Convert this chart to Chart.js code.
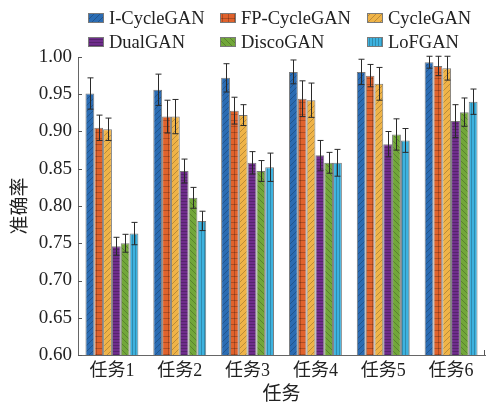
<!DOCTYPE html>
<html>
<head>
<meta charset="utf-8">
<script src="https://cdn.jsdelivr.net/npm/chart.js@4.4.1/dist/chart.umd.min.js"></script>
<style>
  body { margin: 0; background: #fff; }
  #wrap { width: 490px; height: 406px; }
</style>
</head>
<body>
<div id="wrap"><canvas id="myChart" width="490" height="406"></canvas></div>
<script>
// data
const tasks = ['任务1', '任务2', '任务3', '任务4', '任务5', '任务6'];
const names = ['I-CycleGAN', 'FP-CycleGAN', 'CycleGAN', 'DualGAN', 'DiscoGAN', 'LoFGAN'];

const iCycle = [0.951, 0.956, 0.972, 0.980, 0.980, 0.993];
const fpCycle = [0.905, 0.920, 0.928, 0.944, 0.975, 0.988];
const cycle = [0.903, 0.920, 0.922, 0.942, 0.964, 0.985];
const dual = [0.746, 0.847, 0.858, 0.868, 0.883, 0.914];
const disco = [0.750, 0.811, 0.847, 0.858, 0.896, 0.926];
const lof = [0.763, 0.780, 0.852, 0.858, 0.888, 0.940];

const iCycleErr = [0.021, 0.021, 0.019, 0.016, 0.017, 0.008];
const fpCycleErr = [0.017, 0.022, 0.018, 0.024, 0.015, 0.013];
const cycleErr = [0.015, 0.023, 0.014, 0.023, 0.022, 0.016];
const dualErr = [0.012, 0.016, 0.015, 0.020, 0.017, 0.022];
const discoErr = [0.012, 0.014, 0.014, 0.014, 0.021, 0.019];
const lofErr = [0.015, 0.013, 0.019, 0.018, 0.016, 0.017];

const yTicks = [0.60, 0.65, 0.70, 0.75, 0.80, 0.85, 0.90, 0.95, 1.00];

const serif = "'Liberation Serif', 'Noto Sans CJK SC', serif";

// hatch fills like the matlab bars
function hatch(color, kind) {
    let c = document.createElement('canvas')
    c.width = 6; c.height = 6
    let g = c.getContext('2d')
    g.fillStyle = color
    g.fillRect(0, 0, 6, 6)
    g.strokeStyle = 'rgba(0,0,0,0.22)'
    g.lineWidth = 1
    g.beginPath()
    if (kind == 'diag') {
        g.moveTo(0, 6); g.lineTo(6, 0)
        g.moveTo(-3, 3); g.lineTo(3, -3)
        g.moveTo(3, 9); g.lineTo(9, 3)
    } else if (kind == 'grid') {
        g.moveTo(0, 0.5); g.lineTo(6, 0.5)
        g.moveTo(0.5, 0); g.lineTo(0.5, 6)
    } else if (kind == 'horiz') {
        g.moveTo(0, 0.5); g.lineTo(6, 0.5)
        g.moveTo(0, 3.5); g.lineTo(6, 3.5)
    } else if (kind == 'vert') {
        g.moveTo(0.5, 0); g.lineTo(0.5, 6)
        g.moveTo(3.5, 0); g.lineTo(3.5, 6)
    } else if (kind == 'back') {
        g.moveTo(0, 0); g.lineTo(6, 6)
    }
    g.stroke()
    return g.createPattern(c, 'repeat')
}

const fills = [
    hatch('#2b6cb3', 'diag'),
    hatch('#e0622c', 'grid'),
    hatch('#efb347', 'diag'),
    hatch('#6f2d8c', 'horiz'),
    hatch('#72a73a', 'back'),
    hatch('#3db2df', 'vert')
];
const values = [iCycle, fpCycle, cycle, dual, disco, lof];
const errs = [iCycleErr, fpCycleErr, cycleErr, dualErr, discoErr, lofErr];

const datasets = names.map((n, i) => ({
    label: n,
    data: values[i],
    backgroundColor: fills[i],
    borderColor: '#7a7a7a',
    borderWidth: 1,
    categoryPercentage: 0.78,
    barPercentage: 1.0
}));

// error bars
const errorBars = {
    id: 'errorBars',
    afterDatasetsDraw(chart) {
        const ctx = chart.ctx
        const y = chart.scales.y
        ctx.save()
        ctx.strokeStyle = '#2a2a2a'
        ctx.lineWidth = 1
        chart.data.datasets.forEach((ds, i) => {
            chart.getDatasetMeta(i).data.forEach((bar, j) => {
                let v = ds.data[j], e = errs[i][j]
                let x = Math.round(bar.x) + 0.5
                let top = y.getPixelForValue(v + e)
                let bot = y.getPixelForValue(v - e)
                ctx.beginPath()
                ctx.moveTo(x, top); ctx.lineTo(x, bot)
                ctx.moveTo(x - 3, top); ctx.lineTo(x + 3, top)
                ctx.moveTo(x - 3, bot); ctx.lineTo(x + 3, bot)
                ctx.stroke()
            })
        })
        ctx.restore()
    }
};

// inward ticks on the y axis + legend in 3 columns
const extras = {
    id: 'extras',
    afterDraw(chart) {
        const ctx = chart.ctx
        const y = chart.scales.y
        const area = chart.chartArea
        ctx.save()
        ctx.strokeStyle = '#555'
        ctx.lineWidth = 1
        yTicks.forEach(t => {
            let py = Math.round(y.getPixelForValue(t)) + 0.5
            ctx.beginPath()
            ctx.moveTo(area.left, py); ctx.lineTo(area.left + 4, py)
            ctx.stroke()
        })
        ctx.beginPath()
        ctx.moveTo(area.right - 0.5, area.bottom); ctx.lineTo(area.right - 0.5, area.bottom - 5)
        ctx.stroke()

        const colX = [88, 220, 367]
        const rowY = [18, 42]
        ctx.font = '18.5px ' + serif
        ctx.textBaseline = 'middle'
        ctx.fillStyle = '#222'
        names.forEach((n, i) => {
            let bx = colX[i % 3], by = rowY[Math.floor(i / 3)]
            ctx.fillStyle = fills[i]
            ctx.fillRect(bx, by - 5, 16, 10)
            ctx.strokeStyle = '#7a7a7a'
            ctx.strokeRect(bx + 0.5, by - 4.5, 15, 9)
            ctx.fillStyle = '#222'
            ctx.fillText(n, bx + 21, by + 1)
        })
        ctx.restore()
    }
};

const config = {
    type: 'bar',
    data: { labels: tasks, datasets: datasets },
    options: {
        responsive: false,
        animation: false,
        layout: { padding: { top: 57, right: 5, bottom: 0, left: 0 } },
        plugins: {
            legend: { display: false },
            tooltip: { enabled: false }
        },
        scales: {
            x: {
                grid: { display: false, drawTicks: false },
                border: { display: true, color: '#666', width: 1 },
                ticks: { color: '#222', padding: 5, font: { size: 18, family: serif } },
                title: { display: true, text: '任务', color: '#222', padding: { top: 0, bottom: 0 }, font: { size: 19, family: serif } },
                afterFit(scale) { scale.height = 51 }
            },
            y: {
                min: 0.6,
                max: 1.0,
                grid: { display: false, drawTicks: false },
                border: { display: true, color: '#666', width: 1 },
                afterBuildTicks(scale) { scale.ticks = yTicks.map(v => ({ value: v })) },
                ticks: {
                    color: '#222',
                    padding: 6,
                    font: { size: 19, family: serif },
                    callback: v => Number(v).toFixed(2)
                },
                title: { display: true, text: '准确率', color: '#222', padding: { top: 10, bottom: 0 }, font: { size: 19, family: serif } },
                afterFit(scale) { scale.width = 78 }
            }
        }
    },
    plugins: [errorBars, extras]
};

const myChart = new Chart(document.getElementById('myChart'), config);
</script>
</body>
</html>
